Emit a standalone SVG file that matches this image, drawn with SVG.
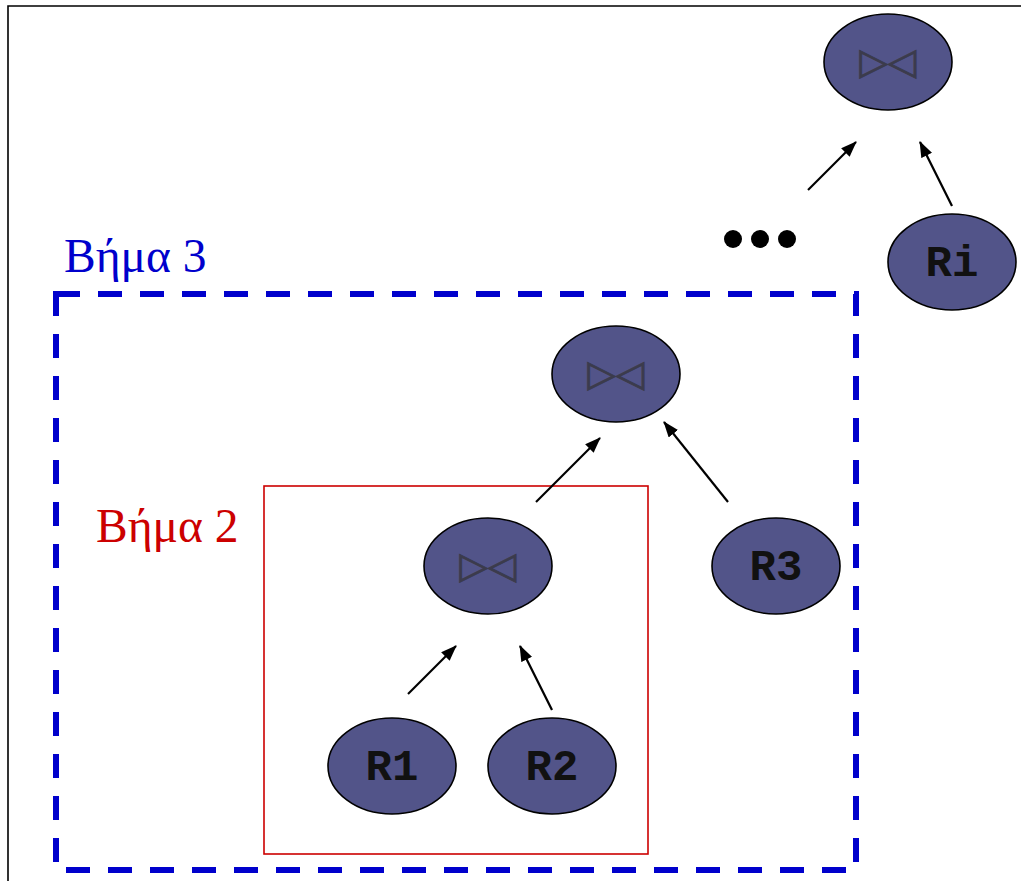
<svg xmlns="http://www.w3.org/2000/svg" width="1021" height="881" viewBox="0 0 1021 881">
  <style>
    .node { fill: #525489; stroke: #000; stroke-width: 1.6; }
    .rel { font-family: "Liberation Mono", "Courier New", monospace; font-weight: bold; font-size: 44px; fill: #111; text-anchor: middle; }
    .join { font-family: "DejaVu Sans", sans-serif; font-size: 37px; fill: #3b3b4c; stroke: #3b3b4c; stroke-width: 0.9; text-anchor: middle; }
    .step { font-family: "Liberation Serif", "Times New Roman", serif; font-size: 47.5px; }
    .edge { stroke: #000; stroke-width: 2.2; fill: none; marker-end: url(#arrow); }
  </style>
  <defs>
    <marker id="arrow" viewBox="0 0 16 12" refX="15" refY="6" markerWidth="16" markerHeight="12" markerUnits="userSpaceOnUse" orient="auto">
      <path d="M0,0 L16,6 L0,12 z" fill="#000"/>
    </marker>
  </defs>
  <rect width="1021" height="881" fill="#fff"/>

  <!-- outer frame -->
  <path d="M8,881 V6 H1021" fill="none" stroke="#000" stroke-width="1.6"/>

  <!-- step regions -->
  <rect x="56" y="294" width="800" height="576" fill="none" stroke="#0000cc" stroke-width="6" stroke-dasharray="24 18"/>
  <rect x="264" y="486" width="384" height="368" fill="none" stroke="#cc0000" stroke-width="1.6"/>
  <text class="step" x="64" y="272" fill="#0000cc">Βήμα 3</text>
  <text class="step" x="96" y="542" fill="#cc0000">Βήμα 2</text>

  <!-- ellipsis dots -->
  <g id="dots" fill="#000">
    <circle cx="733" cy="239" r="9"/>
    <circle cx="760" cy="239" r="9"/>
    <circle cx="787" cy="239" r="9"/>
  </g>

  <!-- connectors -->
  <g id="connectors">
    <line class="edge" x1="808" y1="190" x2="856" y2="142"/>
    <line class="edge" x1="952" y1="206" x2="920" y2="142"/>
    <line class="edge" x1="536" y1="502" x2="600" y2="438"/>
    <line class="edge" x1="728" y1="502" x2="664" y2="422"/>
    <line class="edge" x1="408" y1="694" x2="456" y2="646"/>
    <line class="edge" x1="552" y1="710" x2="520" y2="646"/>
  </g>

  <!-- nodes -->
  <g id="join-top">
    <ellipse class="node" cx="888" cy="62" rx="64" ry="48"/>
    <text class="join" x="888" y="74">▷◁</text>
  </g>
  <g id="rel-Ri">
    <ellipse class="node" cx="952" cy="262" rx="64" ry="48"/>
    <text class="rel" x="952" y="276">Ri</text>
  </g>
  <g id="join-mid">
    <ellipse class="node" cx="616" cy="374" rx="64" ry="48"/>
    <text class="join" x="616" y="386">▷◁</text>
  </g>
  <g id="join-low">
    <ellipse class="node" cx="488" cy="566" rx="64" ry="48"/>
    <text class="join" x="488" y="578">▷◁</text>
  </g>
  <g id="rel-R3">
    <ellipse class="node" cx="776" cy="566" rx="64" ry="48"/>
    <text class="rel" x="776" y="580">R3</text>
  </g>
  <g id="rel-R1">
    <ellipse class="node" cx="392" cy="766" rx="64" ry="48"/>
    <text class="rel" x="392" y="780">R1</text>
  </g>
  <g id="rel-R2">
    <ellipse class="node" cx="552" cy="766" rx="64" ry="48"/>
    <text class="rel" x="552" y="780">R2</text>
  </g>
</svg>
